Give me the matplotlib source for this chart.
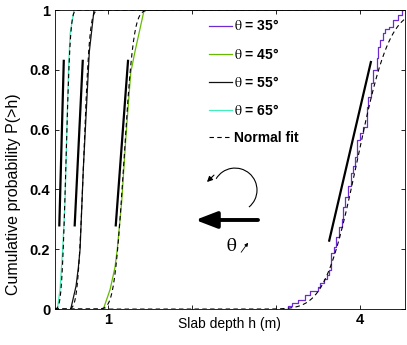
import math
import numpy as np
import matplotlib
matplotlib.use("Agg")
import matplotlib.pyplot as plt
from matplotlib.patches import Arc

plt.rcParams['font.family'] = ['Liberation Sans', 'DejaVu Sans']
plt.rcParams['mathtext.fontset'] = 'stix'

h65 = [0.397, 0.428, 0.460, 0.488, 0.508, 0.528, 0.548, 0.595]
p65 = [0.0, 0.065, 0.20, 0.36, 0.58, 0.79, 0.92, 1.0]

h55 = [0.556, 0.619, 0.647, 0.667, 0.706, 0.746, 0.777, 0.833]
p55 = [0.0, 0.077, 0.14, 0.20, 0.47, 0.69, 0.86, 1.0]

h45 = [0.944, 1.024, 1.083, 1.110, 1.163, 1.214, 1.270, 1.320, 1.430]
p45 = [0.0, 0.065, 0.14, 0.20, 0.36, 0.58, 0.79, 0.86, 1.0]

# theta = 35 staircase corners
h35 = [3.083, 3.140, 3.140, 3.190, 3.190, 3.265, 3.265, 3.345, 3.345, 3.405,
       3.405, 3.503, 3.503, 3.530, 3.530, 3.570, 3.570, 3.603, 3.603, 3.630,
       3.630, 3.660, 3.660, 3.690, 3.690, 3.714, 3.714, 3.750, 3.750, 3.782,
       3.782, 3.800, 3.800, 3.821, 3.821, 3.861, 3.861, 3.890, 3.890, 3.920,
       3.920, 3.945, 3.945, 3.961, 3.961, 4.000, 4.000, 4.040, 4.040, 4.087,
       4.087, 4.099, 4.099, 4.130, 4.130, 4.158, 4.158, 4.199, 4.199, 4.220,
       4.220, 4.238, 4.238, 4.270, 4.270, 4.298, 4.298, 4.350, 4.350, 4.396,
       4.396, 4.456, 4.456, 4.496, 4.496, 4.515]
p35 = [0.0, 0.0, 0.010, 0.010, 0.019, 0.019, 0.032, 0.032, 0.047, 0.047,
       0.061, 0.061, 0.074, 0.074, 0.086, 0.086, 0.100, 0.100, 0.114, 0.114,
       0.130, 0.130, 0.186, 0.186, 0.208, 0.208, 0.240, 0.240, 0.275, 0.275,
       0.300, 0.300, 0.342, 0.342, 0.376, 0.376, 0.410, 0.410, 0.454, 0.454,
       0.480, 0.480, 0.509, 0.509, 0.565, 0.565, 0.590, 0.590, 0.610, 0.610,
       0.677, 0.677, 0.710, 0.710, 0.755, 0.755, 0.800, 0.800, 0.840, 0.840,
       0.877, 0.877, 0.900, 0.900, 0.922, 0.922, 0.935, 0.935, 0.944, 0.944,
       0.967, 0.967, 0.983, 0.983, 1.0, 1.0]

# normal fit parameters (mean, std) per angle
fit_mu = [3.97, 1.19, 0.71, 0.50]
fit_sd = [0.30, 0.09, 0.055, 0.04]

# slope guide segments: (h0, h1), (P0, P1)
guide_h = [(0.420, 0.473), (0.603, 0.699), (1.092, 1.238), (3.634, 4.130)]
guide_p = [(0.28, 0.83), (0.28, 0.83), (0.28, 0.83), (0.229, 0.826)]

labels = [r'$\mathrm{\theta}$ = 35°', r'$\mathrm{\theta}$ = 45°',
          r'$\mathrm{\theta}$ = 55°', r'$\mathrm{\theta}$ = 65°']
colors = ['#6a2bd0', '#66bb00', '#111111', '#44eebb']

fig = plt.figure(figsize=(4.07, 3.45), dpi=100)
ax = fig.add_axes([0.134, 0.104, 0.861, 0.867])

xmin, xmax = 0.363, 4.536

ax.plot(h35, p35, color=colors[0], lw=0.9, label=labels[0])
ax.plot(h45, p45, color=colors[1], lw=0.9, label=labels[1])
ax.plot(h55, p55, color=colors[2], lw=0.9, label=labels[2])
ax.plot(h65, p65, color=colors[3], lw=0.9, label=labels[3])

hh = np.linspace(xmin, xmax, 800)
for i, (mu, sd) in enumerate(zip(fit_mu, fit_sd)):
    cdf = [0.5 * (1 + math.erf((v - mu) / (sd * math.sqrt(2)))) for v in hh]
    ax.plot(hh, cdf, color='k', lw=0.8, ls=(0, (4, 3)),
            label='Normal fit' if i == 0 else None)

for gh, gp in zip(guide_h, guide_p):
    ax.plot(gh, gp, color='k', lw=1.6)

ax.set_xlim(xmin, xmax)
ax.set_ylim(0, 1)
ax.set_xticks([1, 2, 3, 4])
ax.set_xticklabels(['1', '', '', '4'])
ax.set_yticks([0, 0.2, 0.4, 0.6, 0.8, 1])
ax.set_yticklabels(['0', '0.2', '0.4', '0.6', '0.8', '1'])
ax.tick_params(direction='in', top=True, right=True, length=3, width=0.6,
               labelsize=10.5, pad=3)
for t in ax.get_xticklabels() + ax.get_yticklabels():
    t.set_fontweight('bold')
for s in ax.spines.values():
    s.set_linewidth(0.6)

ax.set_xlabel('Slab depth h (m)', fontsize=10)
ax.xaxis.set_label_coords(0.5, -0.025)
ax.set_ylabel('Cumulative probability P(>h)', fontsize=11.5)
ax.yaxis.set_label_coords(-0.095, 0.385)

leg = ax.legend(loc='upper left', bbox_to_anchor=(0.44, 0.972), frameon=False,
                borderpad=0, borderaxespad=0, handlelength=1.65,
                handletextpad=0.2, labelspacing=0.95,
                prop={'weight': 'bold', 'size': 10})

# rotation sketch
ax.add_patch(Arc((0.515, 0.398), 0.1255, 0.147, theta1=-55, theta2=145,
                 transform=ax.transAxes, color='k', lw=0.8))
ax.annotate('', xy=(0.435, 0.425), xytext=(0.455, 0.448),
            xycoords='axes fraction',
            arrowprops=dict(arrowstyle='-|>', color='k', lw=0.8,
                            mutation_scale=8, shrinkA=0, shrinkB=0))
ax.annotate('', xy=(2.04, 0.298), xytext=(2.786, 0.298),
            arrowprops=dict(arrowstyle='-|>,head_length=1.3,head_width=0.5',
                            color='k', lw=2.8, mutation_scale=10,
                            shrinkA=0, shrinkB=0))
ax.text(2.47, 0.21, r'$\mathrm{\theta}$', fontsize=14, ha='center', va='center')
ax.annotate('', xy=(2.668, 0.222), xytext=(2.585, 0.19),
            arrowprops=dict(arrowstyle='-|>', color='k', lw=0.6,
                            mutation_scale=5, shrinkA=0, shrinkB=0))

fig.savefig('out.png', dpi=100)
